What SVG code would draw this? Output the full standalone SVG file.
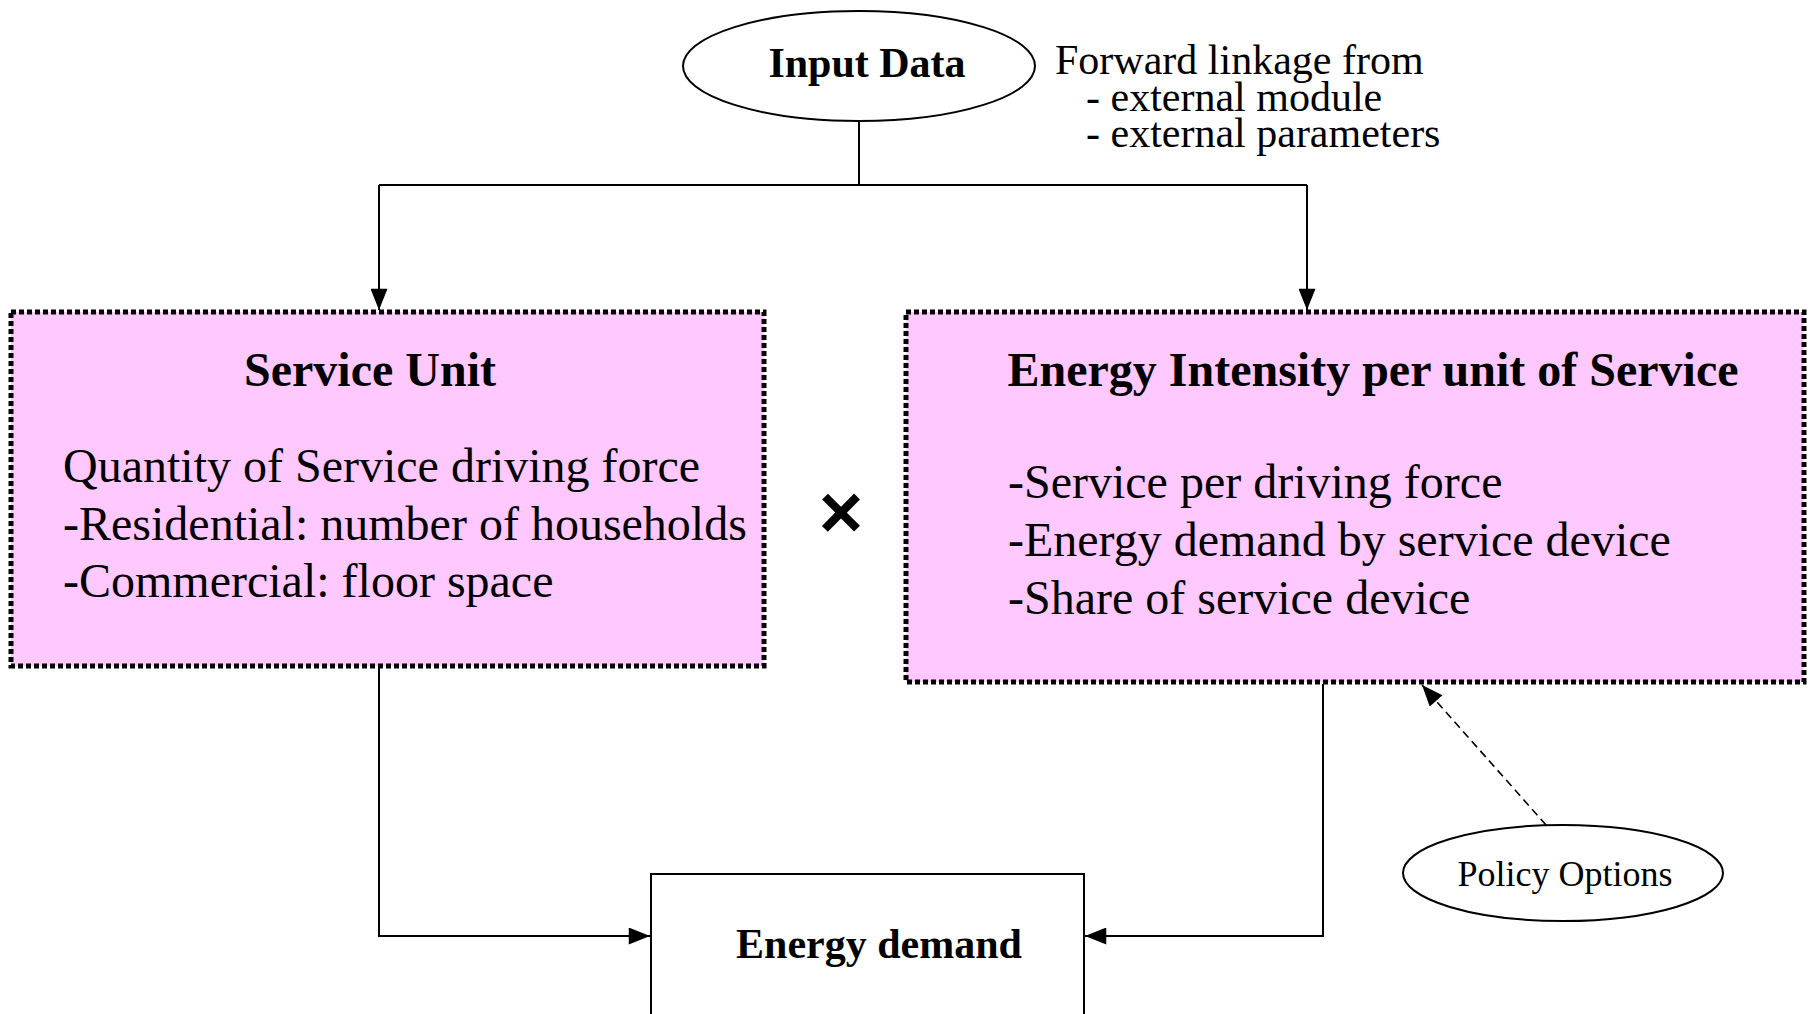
<svg xmlns="http://www.w3.org/2000/svg" width="1812" height="1014" viewBox="0 0 1812 1014">
<style>
text{font-family:"Liberation Serif","Times New Roman",serif;fill:#000}
.b{font-weight:bold}
.box{fill:#FFC8FF;stroke:#000;stroke-width:5;stroke-dasharray:5 3}
.ln{fill:none;stroke:#000;stroke-width:2}
.dash{fill:none;stroke:#000;stroke-width:1.6;stroke-dasharray:8 5}
.el{fill:#fff;stroke:#000;stroke-width:2}
</style>
<defs>
<marker id="ah" viewBox="0 0 20 16" refX="20" refY="8" markerWidth="22" markerHeight="17" markerUnits="userSpaceOnUse" orient="auto">
<path d="M0,0 L20,8 L0,16 z" fill="#000"/>
</marker>
</defs>
<g id="connectors">
<path class="ln" d="M859,121 V185"/>
<path class="ln" d="M379,185 H1307"/>
<path class="ln" d="M379,185 V310" marker-end="url(#ah)"/>
<path class="ln" d="M1307,185 V310" marker-end="url(#ah)"/>
<path class="ln" d="M379,668 V936 H650" marker-end="url(#ah)"/>
<path class="ln" d="M1323,684 V936 H1085" marker-end="url(#ah)"/>
<path class="dash" d="M1546,825 L1422,685" marker-end="url(#ah)"/>
</g>
<g id="input-data">
<ellipse class="el" cx="859" cy="66" rx="176" ry="55"/>
<text class="b" x="867" y="77" font-size="42" text-anchor="middle">Input Data</text>
</g>
<g id="forward-linkage">
<text x="1055" y="74" font-size="42">Forward linkage from</text>
<text x="1086" y="111" font-size="42">- external module</text>
<text x="1086" y="147" font-size="42">- external parameters</text>
</g>
<g id="service-unit">
<rect class="box" x="11" y="312" width="753" height="354"/>
<text class="b" x="370" y="386" font-size="48" text-anchor="middle">Service Unit</text>
<text x="63" y="482" font-size="48">Quantity of Service driving force</text>
<text x="63" y="540" font-size="48">-Residential: number of households</text>
<text x="63" y="597" font-size="48">-Commercial: floor space</text>
</g>
<g id="times">
<text class="b" x="841" y="538" font-size="76" text-anchor="middle" style="font-family:'Liberation Sans',Arial,sans-serif">×</text>
</g>
<g id="energy-intensity">
<rect class="box" x="906" y="312" width="898" height="370"/>
<text class="b" x="1373" y="386" font-size="48" text-anchor="middle">Energy Intensity per unit of Service</text>
<text x="1008" y="498" font-size="48">-Service per driving force</text>
<text x="1008" y="556" font-size="48">-Energy demand by service device</text>
<text x="1008" y="614" font-size="48">-Share of service device</text>
</g>
<g id="energy-demand">
<rect x="651" y="874" width="433" height="160" fill="#fff" stroke="#000" stroke-width="2"/>
<text class="b" x="879" y="958" font-size="42" text-anchor="middle">Energy demand</text>
</g>
<g id="policy-options">
<ellipse class="el" cx="1563" cy="873" rx="160" ry="48"/>
<text x="1565" y="886" font-size="36" text-anchor="middle">Policy Options</text>
</g>
</svg>
